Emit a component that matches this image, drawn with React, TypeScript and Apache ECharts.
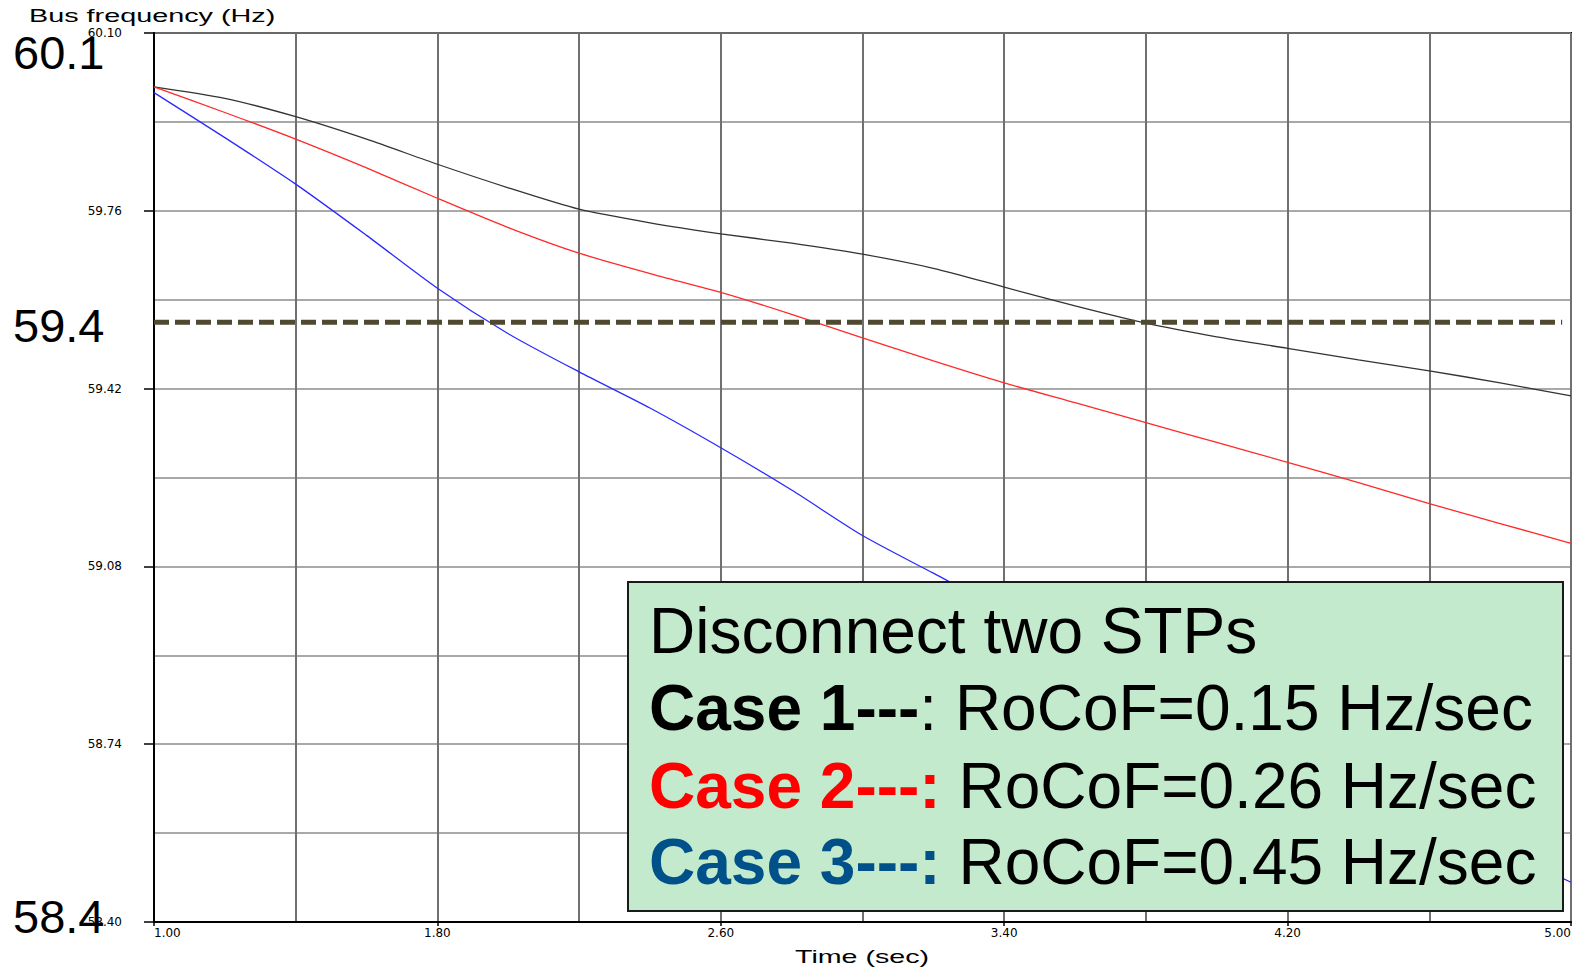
import React, { useEffect, useRef } from 'react';
import * as echarts from 'echarts';

const timeSec = [1.0, 1.2, 1.4, 1.6, 1.8, 2.0, 2.2, 2.4, 2.6, 2.8, 3.0, 3.2, 3.4, 3.6, 3.8, 4.0, 4.2, 4.4, 4.6, 4.8, 5.0];
const case1Hz = [59.997, 59.975, 59.94, 59.897, 59.849, 59.804, 59.763, 59.737, 59.716, 59.698, 59.677, 59.65, 59.614, 59.578, 59.545, 59.519, 59.497, 59.475, 59.454, 59.431, 59.406];
const case2Hz = [59.997, 59.948, 59.897, 59.842, 59.784, 59.728, 59.679, 59.64, 59.604, 59.562, 59.517, 59.473, 59.431, 59.393, 59.355, 59.317, 59.279, 59.24, 59.2, 59.162, 59.124];
const case3Hz = [59.986, 59.9, 59.811, 59.713, 59.612, 59.525, 59.452, 59.383, 59.307, 59.226, 59.139, 59.067, 58.995, 58.93, 58.865, 58.8, 58.74, 58.68, 58.61, 58.54, 58.476];

const xTickLabels = ['1.00', '1.80', '2.60', '3.40', '4.20', '5.00'];
const yTickLabels = ['58.40', '58.74', '59.08', '59.42', '59.76', '60.10'];
const thresholdHz = 59.547;
const thresholdSpanSec = [1.0, 4.975];
const bigLabels = ['60.1', '59.4', '58.4'];
const boxTitle = 'Disconnect two STPs';
const caseNames = ['Case 1---', 'Case 2---:', 'Case 3---:'];
const caseRocof = [': RoCoF=0.15 Hz/sec', ' RoCoF=0.26 Hz/sec', ' RoCoF=0.45 Hz/sec'];
const caseColors = ['#000000', '#ff0000', '#00508a'];
const lineColors = ['#333333', '#ff2a2a', '#2a2aff'];

const FONT = '"Liberation Sans", Arial, Helvetica, sans-serif';

export default function App() {
  const ref = useRef<HTMLDivElement>(null);
  useEffect(() => {
    document.body.style.margin = '0';
    const chart = echarts.init(ref.current!, null, { renderer: 'svg' });
    const mk = (ys: number[]) => timeSec.map((t, i) => [t, ys[i]]);
    const shadowText = { shadowColor: 'rgba(0,0,0,0.45)', shadowBlur: 6, shadowOffsetX: 1, shadowOffsetY: 4 };
    const bigY = [52, 325, 916];
    const lineY = [631, 708, 786, 862];
    const curve = (name: string, ys: number[], color: string) => ({
      name, type: 'line', data: mk(ys), symbol: 'none', smooth: 0.25,
      lineStyle: { color, width: 1.3 }, z: 3,
    });
    const option: any = {
      animation: false,
      backgroundColor: '#ffffff',
      grid: { left: 154, right: 4, top: 33, bottom: 46, show: true, borderColor: '#000', borderWidth: 2, backgroundColor: 'transparent' },
      xAxis: {
        type: 'value',
        min: parseFloat(xTickLabels[0]),
        max: parseFloat(xTickLabels[xTickLabels.length - 1]),
        interval: 0.8,
        axisLine: { show: true, lineStyle: { color: '#000', width: 2 } },
        axisTick: { show: true, length: 4, lineStyle: { color: '#000', width: 1.5 } },
        axisLabel: {
          show: true, margin: 5, color: '#000', fontSize: 12, fontFamily: '"DejaVu Sans", sans-serif',
          formatter: (v: number) => v.toFixed(2), alignMinLabel: 'left', alignMaxLabel: 'right',
          showMinLabel: true, showMaxLabel: true,
        },
        splitLine: { show: true, lineStyle: { color: '#707070', width: 2 } },
        minorTick: { show: false, splitNumber: 2 },
        minorSplitLine: { show: true, lineStyle: { color: '#707070', width: 2 } },
      },
      yAxis: {
        type: 'value',
        min: parseFloat(yTickLabels[0]),
        max: parseFloat(yTickLabels[yTickLabels.length - 1]),
        interval: 0.34,
        axisLine: { show: true, lineStyle: { color: '#000', width: 2 } },
        axisTick: { show: true, length: 10, lineStyle: { color: '#000', width: 1.5 } },
        axisLabel: {
          show: true, margin: 32, color: '#000', fontSize: 12, fontFamily: '"DejaVu Sans", sans-serif',
          formatter: (v: number) => v.toFixed(2), showMinLabel: true, showMaxLabel: true,
        },
        splitLine: { show: true, lineStyle: { color: '#8c8c8c', width: 1.5 } },
        minorTick: { show: false, splitNumber: 2 },
        minorSplitLine: { show: true, lineStyle: { color: '#8c8c8c', width: 1.5 } },
      },
      series: [
        curve('Case 1', case1Hz, lineColors[0]),
        curve('Case 2', case2Hz, lineColors[1]),
        curve('Case 3', case3Hz, lineColors[2]),
        {
          name: 'Threshold', type: 'line', symbol: 'none', z: 4, silent: true,
          data: thresholdSpanSec.map((t) => [t, thresholdHz]),
          lineStyle: { color: '#4e4930', width: 5, type: [15, 6] },
        },
      ],
      graphic: [
        { type: 'text', x: 29, y: 16, scaleX: 1.6, z: 100, style: { text: 'Bus frequency (Hz)', fontFamily: FONT, fontSize: 18, fill: '#000', align: 'left', verticalAlign: 'middle' } },
        { type: 'text', x: 862, y: 957, scaleX: 1.59, z: 100, style: { text: 'Time (sec)', fontFamily: FONT, fontSize: 18, fill: '#000', align: 'center', verticalAlign: 'middle' } },
        ...bigLabels.map((t, i) => ({
          type: 'text', x: 13, y: bigY[i], z: 100,
          style: { text: t, fontFamily: FONT, fontSize: 47, fill: '#000', align: 'left', verticalAlign: 'middle', ...shadowText },
        })),
        { type: 'rect', z: 100, shape: { x: 628, y: 582, width: 935, height: 329 }, style: { fill: '#c3eacc', stroke: '#1a1a1a', lineWidth: 2 } },
        { type: 'text', x: 649, y: lineY[0], z: 101, style: { text: boxTitle, fontFamily: FONT, fontSize: 64, fill: '#000', align: 'left', verticalAlign: 'middle' } },
        ...caseNames.map((n, i) => ({
          type: 'text', x: 649, y: lineY[i + 1], z: 101,
          style: {
            text: `{b|${n}}{r|${caseRocof[i]}}`, align: 'left', verticalAlign: 'middle',
            rich: {
              b: { fontFamily: FONT, fontSize: 64, fontWeight: 'bold', fill: caseColors[i] },
              r: { fontFamily: FONT, fontSize: 64, fill: '#000' },
            },
          },
        })),
      ],
    };
    chart.setOption(option);
    return () => chart.dispose();
  }, []);
  return <div ref={ref} style={{ width: 1575, height: 968 }} />;
}
